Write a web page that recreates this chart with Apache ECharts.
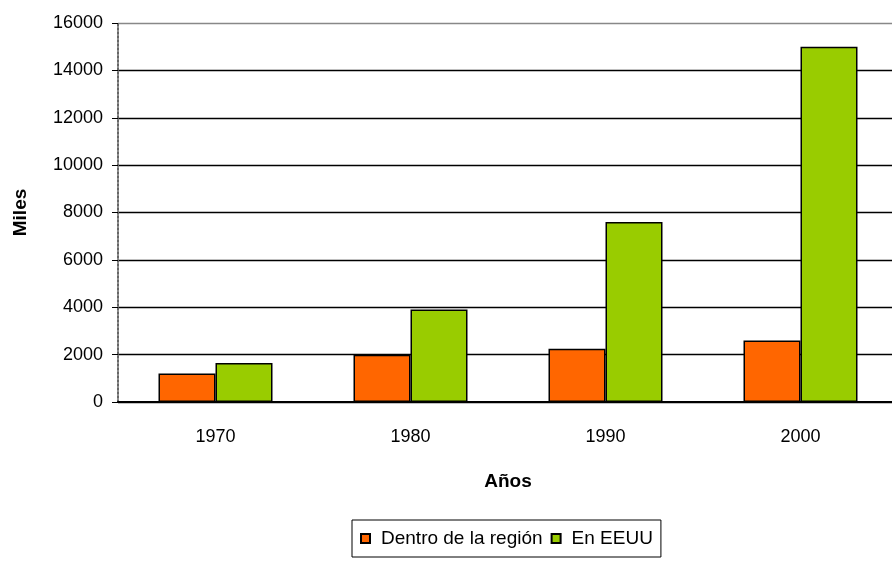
<!DOCTYPE html>
<html>
<head>
<meta charset="utf-8">
<script src="https://cdn.jsdelivr.net/npm/echarts@6/dist/echarts.min.js"></script>
<style>
  html, body { margin: 0; padding: 0; background: #fff; }
  #chart { width: 892px; height: 561px; }
</style>
</head>
<body>
<div id="chart"></div>
<script>
// datos
var years = ['1970', '1980', '1990', '2000'];
var dentroRegion = [1200, 2000, 2250, 2600];
var enEEUU = [1650, 3900, 7600, 15000];
var yTicks = [0, 2000, 4000, 6000, 8000, 10000, 12000, 14000, 16000];

var chart = echarts.init(document.getElementById('chart'));

// última línea (16000) en gris, el resto negras
var splitColors = yTicks.map(function (v, i) {
  return i === yTicks.length - 1 ? '#888' : '#000';
});

var option = {
  animation: false,
  textStyle: { fontFamily: 'Liberation Sans, Arial, sans-serif' },
  grid: {
    left: 118,
    top: 23,
    width: 780,
    height: 379,
    containLabel: false,
    outerBoundsMode: 'none'
  },
  legend: {
    top: 520,
    left: 352,
    data: ['Dentro de la región', 'En EEUU'],
    icon: 'rect',
    itemWidth: 9,
    itemHeight: 9,
    itemGap: 8,
    borderColor: '#000',
    borderWidth: 1,
    padding: [9, 8, 9, 8],
    textStyle: { fontSize: 19, color: '#000', padding: [0, 0, 0, 6] }
  },
  xAxis: {
    type: 'category',
    data: years,
    name: 'Años',
    nameLocation: 'middle',
    nameGap: 70,
    nameTextStyle: { fontSize: 19, fontWeight: 'bold', color: '#000' },
    axisLine: { lineStyle: { color: '#000', width: 2 } },
    axisTick: { length: 5, lineStyle: { color: '#000' } },
    axisLabel: { fontSize: 18, color: '#000', margin: 26 }
  },
  yAxis: {
    type: 'value',
    min: 0,
    max: 16000,
    interval: 2000,
    name: 'Miles',
    nameLocation: 'middle',
    nameGap: 88,
    nameTextStyle: { fontSize: 19, fontWeight: 'bold', color: '#000' },
    axisLine: { show: true, lineStyle: { color: '#666', type: 'dotted', width: 2 } },
    axisTick: { show: true, length: 6, lineStyle: { color: '#000' } },
    axisLabel: {
      fontSize: 18,
      color: '#000',
      margin: 15,
      formatter: function (v) { return String(v); }
    },
    splitLine: { lineStyle: { color: splitColors, width: 1.3 } }
  },
  series: [
    {
      name: 'Dentro de la región',
      type: 'bar',
      data: dentroRegion,
      barWidth: 57,
      barGap: '0%',
      itemStyle: { color: '#FF6600', borderColor: '#000', borderWidth: 1.5 }
    },
    {
      name: 'En EEUU',
      type: 'bar',
      data: enEEUU,
      barWidth: 57,
      barGap: '0%',
      itemStyle: { color: '#99CC00', borderColor: '#000', borderWidth: 1.5 }
    }
  ]
};

chart.setOption(option);
</script>
</body>
</html>
